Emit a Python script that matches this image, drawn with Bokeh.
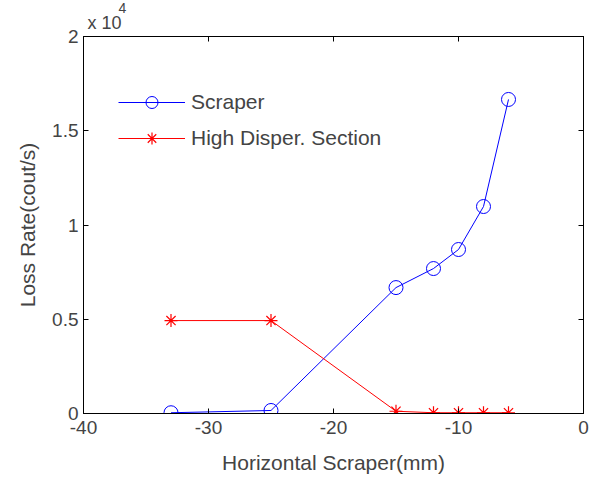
from bokeh.plotting import figure
from bokeh.models import Range1d, LinearAxis, FixedTicker, Legend, LegendItem, Title
from bokeh.embed import file_html
from bokeh.resources import INLINE

# data (loss rate in units of 1e4 counts/s)
scraper_x = [-33, -25, -15, -12, -10, -8, -6]
scraper_y = [0.004, 0.016, 0.668, 0.769, 0.870, 1.098, 1.666]
hds_x = [-33, -25, -15, -12, -10, -8, -6]
hds_y = [0.493, 0.493, 0.012, 0.004, 0.004, 0.004, 0.004]

x_ticks = [-40, -30, -20, -10, 0]
x_tick_labels = {-40: "-40", -30: "-30", -20: "-20", -10: "-10", 0: "0"}
y_ticks = [0, 0.5, 1, 1.5, 2]
y_tick_labels = {0: "0", 0.5: "0.5", 1: "1", 1.5: "1.5", 2: "2"}

FONT = "Liberation Sans"
TICK_FS = "19px"
LABEL_FS = "21px"

p = figure(width=592, height=477, output_backend="svg", toolbar_location=None,
           x_range=Range1d(-40, 0), y_range=Range1d(0, 2),
           min_border_left=83, min_border_right=9, min_border_top=36, min_border_bottom=64,
           title="4")
# outer title: the exponent's superscript
p.title.text_font = FONT
p.title.text_font_size = "14px"
p.title.text_font_style = "normal"
p.title.align = "left"
p.title.offset = 35
p.title.standoff = -12

p.grid.visible = False
p.outline_line_color = "black"
p.outline_line_width = 1
p.background_fill_color = "white"
p.border_fill_color = "white"

def style_axis(ax, labels=True):
    ax.axis_line_color = "black"
    ax.major_tick_in = 5
    ax.major_tick_out = 0
    ax.minor_tick_line_color = None
    ax.major_tick_line_color = "black"
    ax.major_label_text_font = FONT
    ax.major_label_text_font_size = TICK_FS
    ax.axis_label_text_font = FONT
    ax.axis_label_text_font_size = LABEL_FS
    ax.axis_label_text_font_style = "normal"
    if not labels:
        ax.major_label_text_font_size = "0px"
        ax.major_label_text_color = None
        ax.major_label_standoff = 0

p.xaxis.ticker = FixedTicker(ticks=x_ticks)
p.yaxis.ticker = FixedTicker(ticks=y_ticks)
p.xaxis.major_label_overrides = x_tick_labels
p.yaxis.major_label_overrides = y_tick_labels
p.xaxis.axis_label = "Horizontal Scraper(mm)"
p.yaxis.axis_label = "Loss Rate(cout/s)"
style_axis(p.xaxis[0])
style_axis(p.yaxis[0])
p.xaxis.major_label_standoff = 7
p.yaxis.major_label_standoff = 5
p.xaxis.axis_label_standoff = 14
p.yaxis.axis_label_standoff = 10

top = LinearAxis(ticker=FixedTicker(ticks=x_ticks))
right = LinearAxis(ticker=FixedTicker(ticks=y_ticks))
style_axis(top, labels=False)
style_axis(right, labels=False)
p.add_layout(top, "above")
p.add_layout(right, "right")

# inner title: the exponent's base "x 10"
base = Title(text="x 10", text_font=FONT, text_font_size="18px", text_font_style="normal",
             align="left", offset=4, standoff=8)
p.add_layout(base, "above")

l1 = p.line(scraper_x, scraper_y, line_color="#0000FF", line_width=1)
m1 = p.scatter(scraper_x, scraper_y, marker="circle", size=14, fill_color=None,
               line_color="#0000FF", line_width=1)
l2 = p.line(hds_x, hds_y, line_color="#FF0000", line_width=1)
m2 = p.scatter(hds_x, hds_y, marker="asterisk", size=13,
               line_color="#FF0000", line_width=1.2)

legend = Legend(items=[LegendItem(label="Scraper", renderers=[l1, m1]),
                       LegendItem(label="High Disper. Section", renderers=[l2, m2])],
                location=(35, 260), border_line_color=None, background_fill_alpha=0,
                padding=0, margin=0, spacing=6, glyph_width=67, glyph_height=30,
                label_height=30, label_standoff=6,
                label_text_font=FONT, label_text_font_size=LABEL_FS)
p.add_layout(legend, "center")

open("out.html", "w").write(file_html(p, INLINE))
